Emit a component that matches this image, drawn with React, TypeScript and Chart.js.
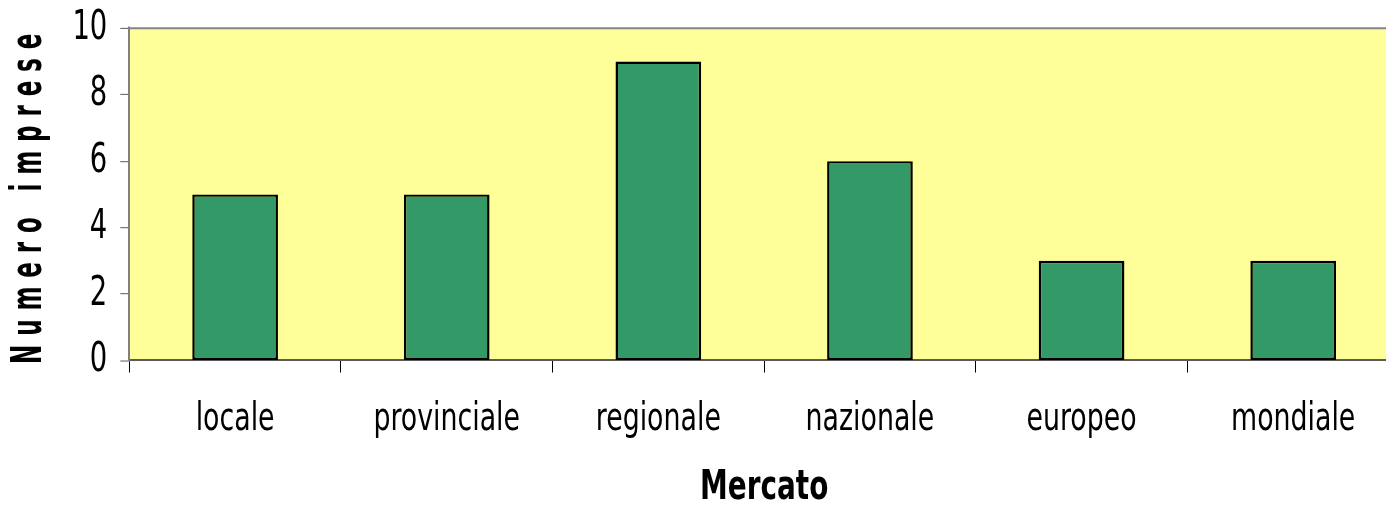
import React, { useEffect, useRef } from 'react';
import { Chart, registerables, LinearScale } from 'chart.js';

Chart.register(...registerables);

const categories = ['locale', 'provinciale', 'regionale', 'nazionale', 'europeo', 'mondiale'];
const values = [5, 5, 9, 6, 3, 3];
const yMin = 0;
const yMax = 10;
const yStep = 2;
const xTitle = 'Mercato';
const yTitle = 'Numero imprese';

// The reference is drawn with text stretched vertically; the chart is laid out in an
// inner coordinate system and stretched by K when drawn.
const CANVAS_W = 1400;
const CANVAS_H = 506;
const K = 1.32;
const INNER_H = CANVAS_H / K;
const PLOT_TOP = 28.3 / K;
const PLOT_BOTTOM = 360.5 / K;
const PLOT_LEFT = 129.3;

const NARROW = "'DejaVu Sans Condensed', 'DejaVu Sans', sans-serif";
const BOLD_WIDE = "'DejaVu Sans', sans-serif";
const TITLE_SQUASH = 0.55 / K;
const TITLE_LETTER_SPACING = '16px';

class SquashTitleLinearScale extends (LinearScale as any) {
  static id = 'squashTitleLinear';
  static defaults = {};
  drawTitle() {
    const ctx = (this as any).ctx as CanvasRenderingContext2D;
    const cy = ((this as any).top + (this as any).bottom) / 2;
    ctx.save();
    try {
      (ctx as any).letterSpacing = TITLE_LETTER_SPACING;
    } catch (e) {
      /* ignore */
    }
    ctx.translate(0, cy);
    ctx.scale(1, TITLE_SQUASH);
    ctx.translate(0, -cy);
    super.drawTitle();
    ctx.restore();
  }
}
Chart.register(SquashTitleLinearScale as any);

const stretchAndBackground = {
  id: 'stretchAndBackground',
  beforeDraw(chart: any) {
    const { ctx, chartArea } = chart;
    ctx.save();
    ctx.scale(1, K);
    if (!chartArea) return;
    ctx.save();
    ctx.fillStyle = '#FFFF99';
    ctx.fillRect(chartArea.left, chartArea.top, chartArea.right - chartArea.left, chartArea.bottom - chartArea.top);
    ctx.strokeStyle = '#858585';
    ctx.lineWidth = 1.6;
    ctx.beginPath();
    ctx.moveTo(chartArea.left, chartArea.top);
    ctx.lineTo(chartArea.right, chartArea.top);
    ctx.stroke();
    ctx.restore();
  },
  afterDraw(chart: any) {
    chart.ctx.restore();
  },
};

export default function App() {
  const canvasRef = useRef<HTMLCanvasElement | null>(null);

  useEffect(() => {
    const canvas = canvasRef.current;
    if (!canvas) return;
    const chart = new Chart(canvas, {
      type: 'bar',
      data: {
        labels: categories,
        datasets: [
          {
            data: values,
            backgroundColor: '#339966',
            borderColor: '#000000',
            borderWidth: { top: 2.4 / K, left: 2.5, right: 2.5, bottom: 2.4 / K },
            borderSkipped: false,
            barPercentage: 0.405,
            categoryPercentage: 1,
          },
        ],
      },
      options: {
        responsive: false,
        animation: false,
        devicePixelRatio: 1,
        layout: {
          padding: { top: PLOT_TOP, right: 1, left: 0, bottom: CANVAS_H - INNER_H },
        },
        plugins: {
          legend: { display: false },
          tooltip: { enabled: false },
        },
        scales: {
          x: {
            offset: true,
            grid: {
              display: true,
              offset: true,
              drawOnChartArea: false,
              drawTicks: true,
              tickLength: 12 / K,
              color: '#000000',
              lineWidth: 1,
            },
            border: { display: true, color: '#5a5a5a', width: 2 / K },
            ticks: {
              color: '#000000',
              font: { family: NARROW, size: 29.8 },
              padding: 17.6,
              maxRotation: 0,
              autoSkip: false,
            },
            title: {
              display: true,
              text: xTitle,
              color: '#000000',
              font: { family: NARROW, size: 31, weight: 'bold', lineHeight: 0.8 },
              padding: { top: 0, bottom: 1.3 },
            },
            afterFit(scale: any) {
              scale.height = INNER_H - PLOT_BOTTOM;
              scale.paddingLeft = 0;
              scale.paddingRight = 0;
            },
          },
          y: {
            type: 'squashTitleLinear' as any,
            min: yMin,
            max: yMax,
            grid: {
              display: true,
              drawOnChartArea: false,
              drawTicks: true,
              tickLength: 9,
              color: '#444444',
              lineWidth: 1 / K,
            },
            border: { display: true, color: '#808080', width: 2 },
            ticks: {
              stepSize: yStep,
              color: '#000000',
              font: { family: NARROW, size: 30.5 },
              padding: 13,
            },
            title: {
              display: true,
              text: yTitle,
              color: '#000000',
              font: { family: BOLD_WIDE, size: 42, weight: 'bold' },
              padding: { top: 5.3, bottom: 0 },
            },
            afterFit(scale: any) {
              scale.width = PLOT_LEFT;
              scale.paddingTop = 0;
              scale.paddingBottom = 0;
            },
          },
        },
      } as any,
      plugins: [stretchAndBackground],
    });
    return () => chart.destroy();
  }, []);

  return (
    <div style={{ position: 'fixed', left: 0, top: 0, width: CANVAS_W, height: CANVAS_H, background: '#ffffff' }}>
      <canvas ref={canvasRef} width={CANVAS_W} height={CANVAS_H} />
    </div>
  );
}
